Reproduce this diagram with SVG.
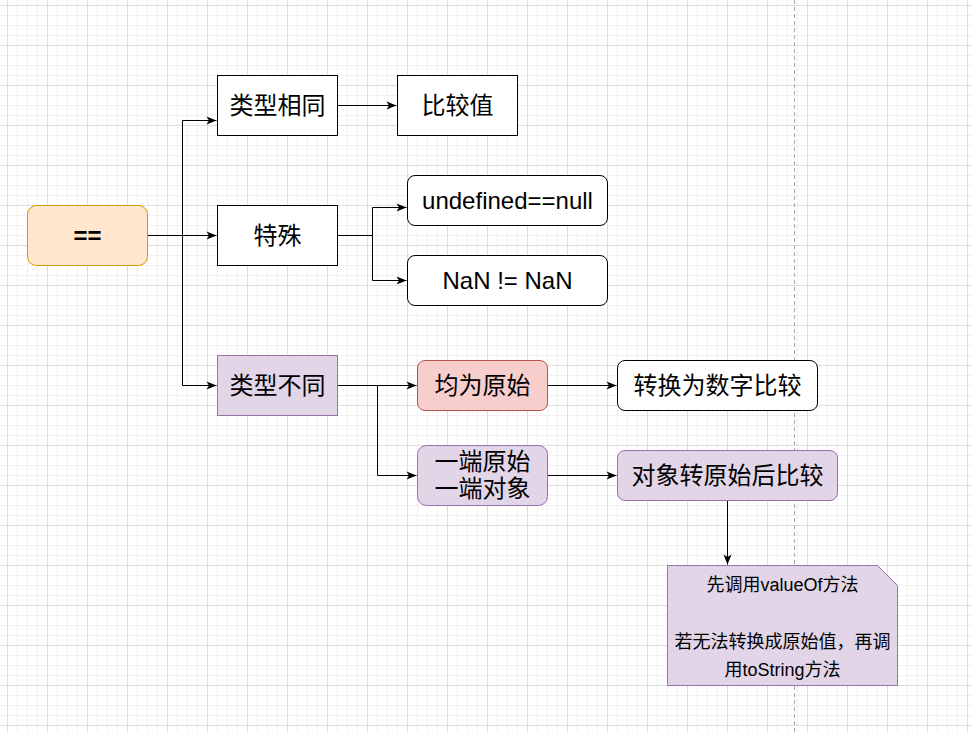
<svg xmlns="http://www.w3.org/2000/svg" width="972" height="732" viewBox="0 0 972 732">
<defs>
<pattern id="grid" patternUnits="userSpaceOnUse" x="7" y="5" width="40" height="40">
<rect x="0" y="0" width="40" height="40" fill="#ffffff"/>
<g fill="#f1f1f1">
<rect x="10" y="0" width="1" height="40"/><rect x="20" y="0" width="1" height="40"/><rect x="30" y="0" width="1" height="40"/>
<rect x="0" y="10" width="40" height="1"/><rect x="0" y="20" width="40" height="1"/><rect x="0" y="30" width="40" height="1"/>
</g>
<g fill="#dedede">
<rect x="0" y="0" width="1" height="40"/><rect x="0" y="0" width="40" height="1"/>
</g>
</pattern>
<marker id="arr" markerUnits="userSpaceOnUse" markerWidth="11" markerHeight="9" refX="10" refY="4.5" orient="auto" overflow="visible">
<path d="M0,0.5 L10,4.5 L0,8.5 L2.5,4.5 Z" fill="#000"/>
</marker>
<style>
.t{font-family:"Liberation Sans","Noto Sans CJK SC",sans-serif;font-size:24px;fill:#000;text-anchor:middle;dominant-baseline:central}
.n{font-size:18px}
.w{fill:#fff;stroke:#000;stroke-width:1}
.p{fill:#e1d5e7;stroke:#9673a6;stroke-width:1}
.r{fill:#f8cecc;stroke:#b85450;stroke-width:1}
.o{fill:#ffe6cc;stroke:#d79b00;stroke-width:1}
.c{fill:none;stroke:#000;stroke-width:1;marker-end:url(#arr)}
.l{fill:none;stroke:#000;stroke-width:1}
</style>
</defs>
<rect x="0" y="0" width="972" height="732" fill="url(#grid)"/>
<line x1="794.5" y1="0" x2="794.5" y2="732" stroke="#a8a8a8" stroke-width="1" stroke-dasharray="4 3"/>

<g id="connectors">
<path class="c" d="M147.5,235.5 H216.5"/>
<path class="l" d="M182.5,235.5 V120.5"/>
<path class="c" d="M182.5,120.5 H216.5"/>
<path class="c" d="M182.5,235.5 V385.5 H216.5"/>
<path class="c" d="M337.5,105.5 H396.5"/>
<path class="l" d="M337.5,235.5 H372.5"/>
<path class="c" d="M372.5,235.5 V207.5 H406.5"/>
<path class="c" d="M372.5,235.5 V280.5 H406.5"/>
<path class="c" d="M337.5,385.5 H416.5"/>
<path class="c" d="M377.5,385.5 V475.5 H416.5"/>
<path class="c" d="M547.5,385.5 H616.5"/>
<path class="c" d="M547.5,475.5 H616.5"/>
<path class="c" d="M727.5,500.5 V564.5"/>
</g>

<g id="eq"><rect class="o" x="27.5" y="205.5" width="120" height="60" rx="9"/><text class="t" x="87.5" y="235" font-weight="bold">==</text></g>
<g id="same"><rect class="w" x="217.5" y="75.5" width="120" height="60"/><text class="t" x="277.5" y="105">类型相同</text></g>
<g id="cmp"><rect class="w" x="397.5" y="75.5" width="120" height="60"/><text class="t" x="457.5" y="105">比较值</text></g>
<g id="special"><rect class="w" x="217.5" y="205.5" width="120" height="60"/><text class="t" x="277.5" y="235">特殊</text></g>
<g id="undef"><rect class="w" x="407.5" y="175.5" width="200" height="50" rx="7.5"/><text class="t" x="507.5" y="200">undefined==null</text></g>
<g id="nan"><rect class="w" x="407.5" y="255.5" width="200" height="50" rx="7.5"/><text class="t" x="507.5" y="280">NaN != NaN</text></g>
<g id="diff"><rect class="p" x="217.5" y="355.5" width="120" height="60"/><text class="t" x="277.5" y="385">类型不同</text></g>
<g id="prim"><rect class="r" x="417.5" y="360.5" width="130" height="50" rx="7.5"/><text class="t" x="482.5" y="385">均为原始</text></g>
<g id="mixed"><rect class="p" x="417.5" y="445.5" width="130" height="60" rx="9"/><text class="t" x="482.5" y="461.5">一端原始</text><text class="t" x="482.5" y="488.5">一端对象</text></g>
<g id="tonum"><rect class="w" x="617.5" y="360.5" width="200" height="50" rx="7.5"/><text class="t" x="717.5" y="385">转换为数字比较</text></g>
<g id="objprim"><rect class="p" x="617.5" y="450.5" width="220" height="50" rx="7.5"/><text class="t" x="727.5" y="475">对象转原始后比较</text></g>
<g id="note"><path class="p" d="M667.5,565.5 H877.5 L897.5,585.5 V685.5 H667.5 Z"/>
<text class="t n" x="782.5" y="585">先调用valueOf方法</text>
<text class="t n" x="782.5" y="642">若无法转换成原始值，再调</text>
<text class="t n" x="782.5" y="670">用toString方法</text></g>
</svg>
